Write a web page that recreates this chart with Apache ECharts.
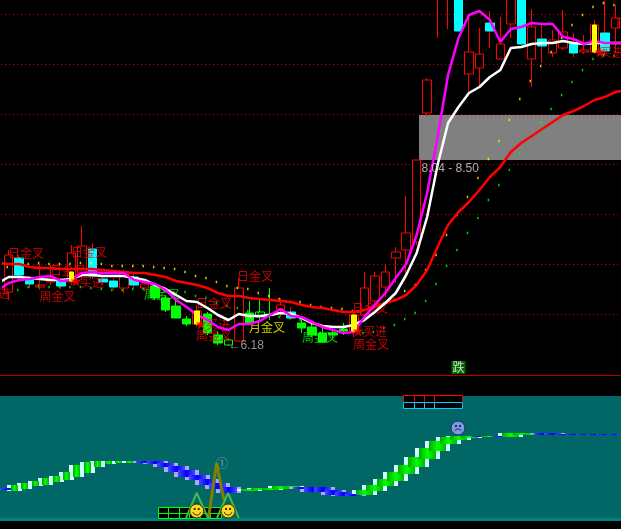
<!DOCTYPE html>
<html><head><meta charset="utf-8">
<style>html,body{margin:0;padding:0;background:#000}#c{width:621px;height:529px}</style>
<script src="https://cdn.jsdelivr.net/npm/echarts@6/dist/echarts.min.js"></script>
</head><body><div id="c"></div>
<script>
const barKinds = ['r','c','c','r','r','c','r','r','c','c','c','r','c','r','g','g','g','g','r','g','g','h','r','g','h','g','r','c','g','g','g','g','g','r','r','r','r','r','r','r','r','r','r','c','r','r','c','r','r','c','r','c','r','r','c','r','r','c','r'];
const barOpen  = [6.72,7.06,6.84,6.77,6.82,6.83,6.82,6.91,7.15,6.85,6.83,6.76,6.87,6.76,6.78,6.66,6.58,6.45,6.40,6.50,6.29,6.24,6.23,6.51,6.52,6.50,6.55,6.52,6.41,6.37,6.31,6.31,6.35,6.33,6.49,6.63,6.77,7.06,7.14,7.22,8.51,9.69,9.69,9.74,8.90,8.96,9.41,9.05,9.40,9.74,9.05,9.25,9.11,9.16,9.21,9.12,9.12,9.31,9.36];
const barClose = [7.09,6.89,6.80,6.79,6.86,6.78,7.11,7.18,6.88,6.82,6.77,6.92,6.79,6.80,6.66,6.54,6.46,6.40,6.53,6.31,6.21,6.19,6.76,6.41,6.47,6.49,6.59,6.46,6.36,6.29,6.22,6.29,6.33,6.49,6.76,6.88,6.92,7.12,7.31,8.04,8.84,9.94,9.94,9.33,9.12,9.10,9.33,9.20,9.74,9.20,9.37,9.18,9.24,9.32,9.11,9.14,9.39,9.13,9.46];
const barHigh  = [7.14,7.09,6.88,7.00,6.99,6.86,7.19,7.38,7.21,6.89,6.86,6.94,6.90,6.83,6.80,6.68,6.63,6.48,6.59,6.52,6.33,6.26,6.86,6.63,6.64,6.76,6.66,6.57,6.44,6.42,6.38,6.34,6.41,6.51,6.92,6.92,7.00,7.17,7.68,8.04,8.86,9.99,9.99,9.79,9.50,9.36,9.53,9.47,9.79,9.79,9.55,9.39,9.34,9.54,9.31,9.29,9.44,9.63,9.59];
const barLow   = [6.64,6.84,6.76,6.74,6.79,6.75,6.79,6.84,6.85,6.79,6.74,6.71,6.76,6.73,6.64,6.52,6.46,6.38,6.37,6.29,6.19,6.18,6.22,6.41,6.44,6.44,6.47,6.44,6.31,6.27,6.22,6.26,6.29,6.27,6.46,6.60,6.67,6.81,6.87,7.19,8.48,9.26,9.35,9.33,8.71,8.79,9.16,9.05,9.26,9.20,8.77,9.01,9.07,9.14,9.07,9.10,9.10,9.09,9.11];
const yellowIdx = [6,18,33,56];
const yellowLow = [6.83,6.40,6.33,9.12];
const yellowHigh = [6.92,6.53,6.49,9.39];
const lineIdx = [-1,0,1,2,3,4,5,6,7,8,9,10,11,12,13,14,15,16,17,18,19,20,21,22,23,24,25,26,27,28,29,30,31,32,33,34,35,36,37,38,39,40,41,42,43,44,45,46,47,48,49,50,51,52,53,54,55,56,57,58,59];
const whiteLine = [6.81,6.87,6.87,6.86,6.85,6.84,6.84,6.85,6.89,6.89,6.88,6.88,6.88,6.86,6.84,6.79,6.75,6.69,6.63,6.62,6.56,6.49,6.44,6.50,6.48,6.48,6.49,6.51,6.50,6.46,6.41,6.38,6.37,6.37,6.39,6.44,6.52,6.61,6.71,6.89,7.11,7.47,7.99,8.41,8.57,8.71,8.77,8.87,8.94,9.16,9.17,9.20,9.21,9.21,9.23,9.21,9.20,9.21,9.21,9.21,9.21];
const magentaLine = [6.74,6.81,6.84,6.85,6.87,6.88,6.83,6.84,6.91,6.92,6.91,6.91,6.91,6.84,6.82,6.80,6.74,6.64,6.57,6.49,6.44,6.37,6.34,6.40,6.40,6.43,6.49,6.55,6.48,6.47,6.42,6.37,6.34,6.31,6.32,6.47,6.59,6.71,6.86,7.00,7.29,7.71,8.27,8.89,9.26,9.49,9.53,9.44,9.22,9.35,9.37,9.41,9.40,9.40,9.27,9.25,9.20,9.23,9.21,9.21,9.21];
const redLine = [7.01,7.00,7.00,6.97,6.96,6.96,6.95,6.95,6.95,6.95,6.94,6.93,6.92,6.91,6.91,6.89,6.87,6.83,6.81,6.79,6.76,6.71,6.68,6.68,6.66,6.65,6.64,6.63,6.62,6.59,6.57,6.56,6.54,6.52,6.52,6.54,6.57,6.61,6.64,6.69,6.79,6.94,7.17,7.39,7.52,7.62,7.74,7.87,7.97,8.12,8.21,8.28,8.35,8.42,8.49,8.53,8.58,8.64,8.67,8.72,8.74];
const yellowDots = [6.97,7.00,7.00,7.01,7.00,7.00,7.00,7.01,7.01,7.00,6.98,6.98,6.98,6.98,6.97,6.96,6.95,6.92,6.88,6.86,6.82,6.78,6.76,6.75,6.71,6.68,6.65,6.62,6.62,6.59,6.57,6.56,6.55,6.53,6.54,6.58,6.61,6.64,6.73,6.79,6.94,7.09,7.29,7.49,7.67,7.86,8.05,8.23,8.44,8.65,8.83,8.98,9.12,9.26,9.39,9.49,9.57,9.61,9.59];
const greenDots = [null,6.74,6.77,6.78,6.77,6.77,6.77,6.77,6.76,6.75,6.74,6.74,6.75,6.75,6.74,6.73,6.71,6.72,6.68,6.66,6.61,6.58,6.56,6.53,6.51,6.49,6.47,6.46,6.44,6.42,6.39,6.37,6.35,6.32,6.31,6.32,6.36,6.39,6.45,6.51,6.63,6.80,6.98,7.14,7.31,7.46,7.64,7.79,7.94,8.11,8.27,8.41,8.55,8.69,8.82,8.94,9.05,9.09,9.08];
const priceLevels = [9.5,9.0,8.5,8.0,7.5,7.0,6.5];
const bandRange = [8.04,8.50];
const bandText = ['8.04 - 8.50'];
const bandTextPos = [39.41,7.95];
const lowText = ['←6.18'];
const lowTextPos = [20.96,6.18];
const redLabelText = ['日金叉','日金叉','日金叉','日金叉','日金叉','日金叉','日金叉','周金叉','周金叉','周金叉','买进','买进','买进','买进','买进'];
const redLabelX = [1.65,7.67,5.67,19.62,23.54,34.54,59.7,4.66,19.62,34.63,7.96,-1.03,20.0,35.0,57.67];
const redLabelY = [7.11,7.12,6.94,6.61,6.88,6.56,9.41,6.68,6.29,6.20,6.82,6.71,6.40,6.33,9.12];
const greenLabelText = ['周金叉','周金叉'];
const greenLabelX = [14.65,29.76];
const greenLabelY = [6.70,6.27];
const yellowLabelText = ['月金叉'];
const yellowLabelX = [24.69];
const yellowLabelY = [6.37];
const starX = [6.43,18.38,33.4,56.53];
const starY = [6.83,6.40,6.33,9.12];
const fallText = ['跌'];
const fallPos = [43.0,5.965];
const ribbonIdx = [-1,0,1,2,3,4,5,6,7,8,9,10,11,12,13,14,15,16,17,18,19,20,22,23,24,25,26,27,28,29,30,31,32,33,34,35,36,37,38,39,40,41,42,43,44,45,46,47,48,49,50,51,52,53,54,55,56,57,58];
const ribbonKind = ['b','g','g','g','g','g','g','g','g','g','g','g','g','b','b','b','b','b','b','b','b','b','g','g','g','g','g','b','b','b','b','b','b','g','g','g','g','g','g','g','g','g','g','g','b','g','b','g','g','g','b','b','b','b','b','b','b','b','b'];
const ribbonTop = [30.7,34,36,38.3,41,43,47,54,57,58,58,58,58,58,58,56,53,49,44,40,36,32,30,31,31.5,32.7,33,32,31.7,31.7,29,26.7,24.7,29,34,40,47.3,54,62,71,78,82,83,83,82.7,83,83,86,86,85.5,86,86,85,85,85,85,85,85,85];
const ribbonBottom = [28.3,28,30.3,33,34,37.3,39,42.3,45.7,52.3,55,56,56.3,56.3,55,52,47,42.3,39,34,30,26,28,28.7,29.5,30,31.7,30.5,27,26.7,24,22.3,22.7,24,28,33,38.7,44.7,52,60,68,75,79,81,81.3,82,82,82.3,84,84.5,84,84,84,84,84,84,84,84,84];
const peakX = [19.1,19.87,20.57];
const peakY = [1,56,19];
const tentAX = [16.95,17.97,19.05];
const tentBX = [19.91,20.97,22.0];
const tentY = [1,26,1];
const markText = ['①'];
const markPos = [20.39,56];
const smileX = [17.97,20.97];
const smileY = [8,8];
const sadX = [42.95];
const sadY = [91];
const boxColsGreen = [14.27,15.27,16.27,17.27,18.27,19.27,20.27];
const boxRowsGreen = [11.7,6,1];
const boxColsTop = [37.7,38.7,39.7,40.7,43.3];
const boxRowsTop = [123.7,117.3,111.3];

const ohlc = k => barKinds.map((t,i)=> t===k ? [barOpen[i],barClose[i],barLow[i],barHigh[i]] : '-');
const bodyOnly = k => barKinds.map((t,i)=> t===k ? [barOpen[i],barClose[i],Math.min(barOpen[i],barClose[i]),Math.max(barOpen[i],barClose[i])] : '-');
const cats = barKinds.map((_,i)=>String(i));
const candle = (name,data,width,fill,border,z) => ({name,type:'candlestick',xAxisIndex:0,yAxisIndex:0,data,barWidth:width,z,silent:true,
  itemStyle:{color:fill,color0:fill,borderColor:border,borderColor0:border,borderWidth:1}});
const textSeries = (name,xs,ys,texts,color,opt,xa,ya,z) => ({name,type:'scatter',xAxisIndex:xa,yAxisIndex:ya,symbolSize:1,z,silent:true,clip:false,
  itemStyle:{color:'rgba(0,0,0,0)'},
  data:texts.map((t,i)=>({name:t,value:[xs[i],ys[i]]})),
  label:Object.assign({show:true,position:'inside',formatter:'{b}',color,fontSize:12,fontFamily:'"Noto Sans CJK SC"'},opt||{})});
const line = (name,data,color) => ({name,type:'line',xAxisIndex:1,yAxisIndex:0,data:lineIdx.map((x,i)=>[x,data[i]]),symbol:'none',z:5,silent:true,clip:false,lineStyle:{color,width:2.5}});
const dots = (name,data,color) => ({name,type:'scatter',xAxisIndex:0,yAxisIndex:0,data,symbol:'rect',symbolSize:[1.5,2.5],symbolOffset:[-1.5,0],z:3,silent:true,itemStyle:{color}});
const poly = (name,xs,ys,color,width,z) => ({name,type:'line',xAxisIndex:2,yAxisIndex:1,data:xs.map((x,i)=>[x,ys[i]]),symbol:'none',z,silent:true,clip:false,lineStyle:{color,width}});

function cellGrid(name,cols,rows,colors,z){
  const cells=[];
  for(let r=0;r<rows.length-1;r++)for(let c=0;c<cols.length-1;c++)cells.push([cols[c],cols[c+1],rows[r],rows[r+1],r]);
  return {name,type:'custom',xAxisIndex:2,yAxisIndex:1,data:cells,z,silent:true,clip:false,encode:{x:0,y:2},
    renderItem(p,api){
      const a=api.coord([api.value(0),api.value(2)]),b=api.coord([api.value(1),api.value(3)]);
      const x=Math.round(a[0])+.5,y=Math.round(a[1])+.5,w=Math.round(b[0])-Math.round(a[0]),h=Math.round(b[1])-Math.round(a[1]);
      return {type:'rect',shape:{x,y,width:w,height:h},style:{fill:'#000',stroke:colors[api.value(4)],lineWidth:1}};
    }};
}
function faceSeries(name,xs,ys,fill,edge,happy){
  return {name,type:'custom',xAxisIndex:2,yAxisIndex:1,data:xs.map((x,i)=>[x,ys[i]]),z:9,silent:true,clip:false,encode:{x:0,y:1},
    renderItem(p,api){
      const c=api.coord([api.value(0),api.value(1)]),x=c[0],y=c[1];
      const mouth=happy?{type:'arc',shape:{cx:x,cy:y,r:4,startAngle:0.3,endAngle:Math.PI-0.3},style:{stroke:edge,lineWidth:1,fill:null}}
        :{type:'arc',shape:{cx:x,cy:y+5,r:4,startAngle:Math.PI+0.6,endAngle:2*Math.PI-0.6},style:{stroke:edge,lineWidth:1,fill:null}};
      return {type:'group',children:[
        {type:'circle',shape:{cx:x,cy:y,r:7},style:{fill,stroke:edge,lineWidth:1}},
        {type:'rect',shape:{x:x-3,y:y-3,width:2,height:2},style:{fill:edge}},
        {type:'rect',shape:{x:x+1,y:y-3,width:2,height:2},style:{fill:edge}},
        mouth]};
    }};
}
const greenCore = new echarts.graphic.LinearGradient(0,0,1,0,[{offset:0,color:'#00a800'},{offset:.5,color:'#00ff00'},{offset:1,color:'#00b800'}]);
const blueCore = new echarts.graphic.LinearGradient(0,0,1,0,[{offset:0,color:'#4848ff'},{offset:.5,color:'#0000ff'},{offset:1,color:'#4848ff'}]);
const ribbonData = ribbonIdx.map((x,i)=>[x,ribbonTop[i],ribbonBottom[i],ribbonKind[i]==='g'?0:1]);
const ribbonLayer = (name,core,z) => ({name,type:'custom',xAxisIndex:2,yAxisIndex:1,z,silent:true,clip:false,encode:{x:0,y:1},data:ribbonData,
  renderItem(p,api){
    const a=api.coord([api.value(0),api.value(1)]),b=api.coord([api.value(0),api.value(2)]);
    const g=api.value(3)===0, w=(g&&api.value(0)<12)?15:25, inset=core?4:0;
    const fill=core?(g?greenCore:blueCore):(g?'#ccffff':'#a8a8ff');
    return {type:'rect',shape:{x:Math.round(a[0]-2)+inset,y:Math.round(a[1]),width:w-2*inset,height:Math.max(1,Math.round(b[1]-a[1]))},style:{fill}};
  }});

const option = {
  animation:false,backgroundColor:'#000',
  graphic:[
    {type:'rect',z:-1,shape:{x:0,y:396,width:621,height:122},style:{fill:'#006666'}},
    {type:'rect',z:-1,shape:{x:0,y:518,width:621,height:3},style:{fill:'#008080'}},
    {type:'rect',z:-1,shape:{x:0,y:375,width:621,height:1},style:{fill:'#b00000'}}
  ],
  grid:[{left:3.5,top:0,width:617.14,height:375},{left:3.5,top:396,width:617.14,height:123}],
  xAxis:[
    {type:'category',gridIndex:0,data:cats,show:false},
    {type:'value',gridIndex:0,min:-0.5,max:58.5,show:false},
    {type:'value',gridIndex:1,min:-0.5,max:58.5,show:false}
  ],
  yAxis:[
    {type:'value',gridIndex:0,min:5.89,max:9.64,show:false,splitLine:{show:false}},
    {type:'value',gridIndex:1,min:0,max:123,show:false,splitLine:{show:false}}
  ],
  series:[
    {name:'band',type:'custom',xAxisIndex:1,yAxisIndex:0,data:[[39.2,bandRange[1],bandRange[0]]],z:0,silent:true,clip:false,encode:{x:0,y:1},
      renderItem(p,api){const a=api.coord([api.value(0),api.value(1)]),b=api.coord([api.value(0),api.value(2)]);
        return {type:'rect',shape:{x:Math.round(a[0]),y:Math.round(a[1])+1,width:621-Math.round(a[0]),height:Math.round(b[1]-a[1])-1},style:{fill:'#808080'}};}},
    {name:'levels',type:'custom',xAxisIndex:1,yAxisIndex:0,data:priceLevels.map(v=>[0,v]),z:1,silent:true,clip:false,encode:{x:0,y:1},
      renderItem(p,api){const y=Math.round(api.coord([0,api.value(1)])[1]);const children=[];
        for(let x=1;x<621;x+=4)children.push({type:'rect',shape:{x,y,width:1,height:1},style:{fill:'#c80000'}});
        return {type:'group',children};}},
    candle('redBars',ohlc('r'),9,'#000','#ff0000',2),
    candle('greenBars',ohlc('g'),9,'#00ff00','#00ff00',2),
    candle('greenHollow',ohlc('h'),9,'#000','#00ff00',2),
    candle('cyanWicks',ohlc('c'),1,'#ff0000','#ff0000',2),
    candle('cyanBars',bodyOnly('c'),9,'#00ffff','#00ffff',2),
    textSeries('redLabels',redLabelX,redLabelY,redLabelText,'#ff0000',null,1,0,3),
    textSeries('greenLabels',greenLabelX,greenLabelY,greenLabelText,'#00ff00',null,1,0,3),
    textSeries('yellowLabels',yellowLabelX,yellowLabelY,yellowLabelText,'#ffff00',null,1,0,3),
    dots('yellowDots',yellowDots,'#ffff00'),
    dots('greenDots',greenDots,'#00ff00'),
    line('redLine',redLine,'#ff0000'),
    line('whiteLine',whiteLine,'#ffffff'),
    line('magentaLine',magentaLine,'#ff00ff'),
    {name:'yellowBars',type:'candlestick',xAxisIndex:0,yAxisIndex:0,barWidth:5,z:6,silent:true,
      data:cats.map((_,i)=>{const k=yellowIdx.indexOf(i);return k<0?'-':[yellowLow[k],yellowHigh[k],yellowLow[k],yellowHigh[k]];}),
      itemStyle:{color:'#ffff00',color0:'#ffff00',borderColor:'#ffff00',borderColor0:'#ffff00',borderWidth:1}},
    {name:'stars',type:'scatter',xAxisIndex:1,yAxisIndex:0,data:starX.map((x,i)=>[x,starY[i]]),symbol:'path://M50 0L62 35L100 35L70 58L81 95L50 73L19 95L30 58L0 35L38 35Z',symbolSize:11,z:7,silent:true,itemStyle:{color:'#ff0000'}},
    textSeries('bandText',[bandTextPos[0]],[bandTextPos[1]],bandText,'#d8d8d8',{position:'right',distance:0,fontFamily:'"Liberation Sans"',fontSize:12},1,0,7),
    textSeries('lowText',[lowTextPos[0]],[lowTextPos[1]],lowText,'#b8b8b8',{position:'right',distance:0,fontFamily:'"Liberation Sans"',fontSize:12},1,0,7),
    textSeries('fall',[fallPos[0]],[fallPos[1]],fallText,'#ffffff',{backgroundColor:'#007a00',padding:[1,1,0,1]},1,0,7),
    ribbonLayer('ribbonEdge',false,2),
    ribbonLayer('ribbonCore',true,2),
    cellGrid('tableGreen',boxColsGreen,boxRowsGreen,['#00ff00','#00ff00'],3),
    cellGrid('tableTop',boxColsTop,boxRowsTop,['#ff0000','#00ccff'],3),
    poly('peak',peakX,peakY,'#808000',3,4),
    poly('tentA',tentAX,tentY,'#44bb44',2,5),
    poly('tentB',tentBX,tentY,'#44bb44',2,5),
    textSeries('mark',[markPos[0]],[markPos[1]],markText,'#a0a0a0',null,2,1,6),
    faceSeries('smiles',smileX,smileY,'#f8d820','#403000',true),
    faceSeries('sad',sadX,sadY,'#7a9ae0','#1a2a66',false)
  ]
};
echarts.init(document.getElementById('c'),null,{renderer:'canvas'}).setOption(option);
</script></body></html>
